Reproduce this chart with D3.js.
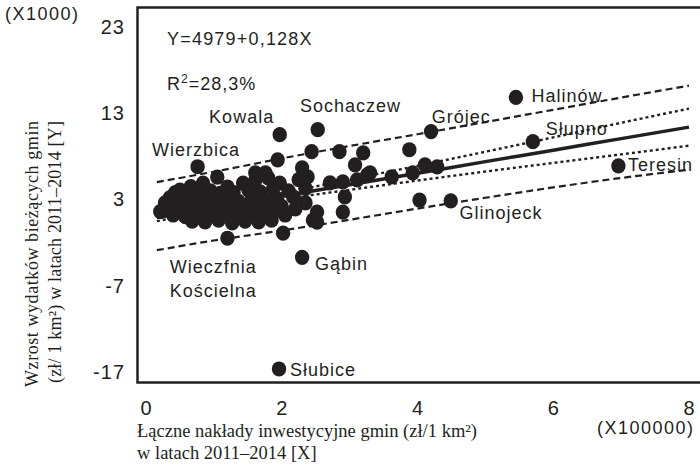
<!doctype html>
<html>
<head>
  <meta charset="utf-8">
  <title>Wydatki bieżące a nakłady inwestycyjne gmin</title>
  <style>
    body { margin: 0; background: #fff; }
    svg text { font-family: "Liberation Sans", Arial, sans-serif; fill: #231f20; }
    svg .serif { font-family: "Liberation Serif", "Times New Roman", serif; }
  </style>
</head>
<body>
  <svg id="chart" width="700" height="466"></svg>
  <script src="https://cdn.jsdelivr.net/npm/d3@7"></script>
  <script>

  // gminy: x = nakłady (x100000 zł/km2), y = wzrost wydatków (x1000 zł/km2)
  const ptX = [
    5.45, 4.20, 5.70, 6.96, 4.49, 4.03, 2.53, 1.97, 0.76, 1.20, 2.30, 1.96,
    1.94, 2.44, 2.85, 3.20, 3.88, 3.08, 2.30, 2.38, 2.90, 2.71, 3.26, 3.11,
    3.62, 3.93, 4.11, 4.29, 2.93, 2.90, 2.52, 2.02, 3.30, 2.46, 2.52,
    // skupisko
    0.50, 0.66, 0.84, 1.20, 1.43, 1.61, 1.80, 1.97, 2.25, 1.05, 1.61, 1.76,
    0.35, 0.43, 0.60, 0.79, 0.95, 1.09, 1.29, 1.51, 1.68, 1.87, 2.10, 2.35,
    0.28, 0.48, 0.66, 0.82, 1.00, 1.17, 1.36, 1.56, 1.74, 1.93, 2.17, 2.35,
    0.21, 0.38, 0.56, 0.73, 0.92, 1.07, 1.27, 1.44, 1.62, 1.80, 2.00, 2.20,
    0.40, 0.58, 0.79, 0.95, 1.12, 1.31, 1.51, 1.68, 1.87, 2.05,
    0.68, 0.87, 1.07, 1.27, 1.46, 1.66, 1.85
  ];
  const ptY = [
    14.84, 10.87, 9.71, 6.91, 2.83, 2.94, 11.10, 10.52, 6.80, -1.49, -3.70, -16.65,
    7.60, 8.54, 8.54, 8.40, 8.77, 7.02, 6.67, 5.62, 5.04, 4.92, 5.86, 5.27,
    5.62, 6.09, 7.02, 6.79, 3.29, 1.54, 0.38, -0.90, 6.09, 0.60, 1.54,
    4.10, 4.50, 4.90, 4.45, 4.90, 5.20, 5.50, 4.90, 5.30, 5.60, 6.10, 6.10,
    3.20, 3.80, 3.60, 3.90, 4.00, 3.70, 3.80, 4.10, 3.90, 4.20, 4.00, 4.30,
    2.60, 2.90, 2.70, 3.10, 2.90, 3.10, 2.80, 3.20, 2.90, 3.10, 3.30, 2.60,
    1.60, 2.00, 2.20, 1.90, 2.30, 2.00, 2.20, 1.90, 2.30, 2.00, 2.20, 1.90,
    1.20, 1.00, 1.40, 1.10, 1.40, 1.00, 1.30, 1.10, 1.40, 1.20,
    0.50, 0.40, 0.60, 0.30, 0.50, 0.40, 0.60
  ];

  // linia regresji i granice
  const fitX      = [0.16, 1, 2, 3, 4, 5, 6, 7, 8];
  const fitY      = [0.92, 2.05, 3.38, 4.72, 6.05, 7.39, 8.72, 10.06, 11.39];
  const confUpper = [1.36, 2.36, 3.74, 5.32, 6.90, 8.54, 10.20, 11.89, 13.54];
  const confLower = [0.49, 1.74, 3.02, 4.12, 5.20, 6.24, 7.24, 8.23, 9.24];
  const predUpper = [5.02, 6.22, 7.76, 9.20, 10.57, 11.98, 13.40, 14.82, 16.20];
  const predLower = [-2.88, -1.75, -0.60, 0.65, 1.95, 3.20, 4.40, 5.50, 6.45];

  const xTicks = [0, 2, 4, 6, 8];
  const yTicks = [23, 13, 3, -7, -17];

  // nazwy gmin: tekst, początek napisu, linia bazowa
  const labelText = ["Halinów", "Grójec", "Słupno", "Teresin", "Glinojeck", "Sochaczew",
                     "Kowala", "Wierzbica", "Wieczfnia", "Kościelna", "Gąbin", "Słubice"];
  const labelX = [5.68, 4.21, 5.89, 7.10, 4.62, 2.27, 0.93, 0.09, 0.35, 0.35, 2.49, 2.12];
  const labelY = [14.35, 11.92, 10.48, 6.33, 0.73, 13.2, 11.92, 8.07, -5.55, -8.35, -5.22, -17.5];

  const ink = "#231f20";
  let svg = d3.select("#chart");

  let x = d3.scaleLinear().domain([0, 8]).range([146, 689]);
  let y = d3.scaleLinear().domain([-17, 23]).range([372, 27]);

  // ramka wykresu (prawa krawędź poza kadrem)
  svg.append("path")
    .attr("d", "M720,7.5 H137.5 V382.5 H720")
    .attr("fill", "none")
    .attr("stroke", ink)
    .attr("stroke-width", 2.5);

  // osie
  let yAxis = svg.append("g")
    .attr("transform", "translate(125,0)")
    .call(d3.axisLeft(y).tickValues(yTicks).tickFormat(d => String(d)).tickSize(0).tickPadding(0));
  let xAxis = svg.append("g")
    .attr("transform", "translate(0,401)")
    .call(d3.axisBottom(x).tickValues(xTicks).tickFormat(d => String(d)).tickSize(0).tickPadding(0));
  [yAxis, xAxis].forEach(a => {
    a.select(".domain").remove();
    a.selectAll("text")
      .attr("font-family", null)
      .style("font-size", "20px")
      .style("letter-spacing", "1px")
      .attr("fill", ink);
  });

  svg.append("text").attr("x", 5).attr("y", 20)
    .style("font-size", "18px").style("letter-spacing", "1.5px")
    .text("(X1000)");
  svg.append("text").attr("x", 597).attr("y", 434)
    .style("font-size", "18px").style("letter-spacing", "1.5px")
    .text("(X100000)");

  // opisy osi
  svg.append("text").attr("class", "serif")
    .attr("x", 137).attr("y", 437)
    .style("font-size", "18.5px")
    .text("Łączne nakłady inwestycyjne gmin (zł/1 km²)");
  svg.append("text").attr("class", "serif")
    .attr("x", 137).attr("y", 459)
    .style("font-size", "18.5px")
    .text("w latach 2011–2014 [X]");

  let yTitle = svg.append("g").attr("transform", "translate(0,254) rotate(-90)");
  yTitle.append("text").attr("class", "serif")
    .attr("x", 0).attr("y", 38)
    .attr("text-anchor", "middle")
    .attr("textLength", 266).attr("lengthAdjust", "spacing")
    .style("font-size", "18px")
    .text("Wzrost wydatków bieżących gmin");
  yTitle.append("text").attr("class", "serif")
    .attr("x", 2).attr("y", 61)
    .attr("text-anchor", "middle")
    .attr("textLength", 262).attr("lengthAdjust", "spacing")
    .style("font-size", "18px")
    .text("(zł/ 1 km²) w latach 2011–2014 [Y]");

  // linie
  let line = d3.line()
    .x(d => x(d[0]))
    .y(d => y(d[1]))
    .curve(d3.curveMonotoneX);

  let lines = [
    {vals: predUpper, width: 2.2, dash: "7,4"},
    {vals: predLower, width: 2.2, dash: "7,4"},
    {vals: confUpper, width: 2.4, dash: "3,3"},
    {vals: confLower, width: 2.4, dash: "3,3"},
    {vals: fitY, width: 3.5, dash: null}
  ];

  svg.append("g")
    .selectAll("path")
    .data(lines)
    .enter()
    .append("path")
    .attr("d", d => line(fitX.map((v, i) => [v, d.vals[i]])))
    .attr("fill", "none")
    .attr("stroke", ink)
    .attr("stroke-width", d => d.width)
    .attr("stroke-dasharray", d => d.dash);

  // punkty
  svg.append("g")
    .selectAll("ellipse")
    .data(d3.range(ptX.length))
    .enter()
    .append("ellipse")
    .attr("cx", i => x(ptX[i]))
    .attr("cy", i => y(ptY[i]))
    .attr("rx", 7.2)
    .attr("ry", 7.6)
    .attr("fill", ink);

  // równanie
  svg.append("text").attr("x", 167).attr("y", 45)
    .style("font-size", "18px").style("letter-spacing", "1.2px")
    .text("Y=4979+0,128X");
  let r2 = svg.append("text").attr("x", 167).attr("y", 90)
    .style("font-size", "18px").style("letter-spacing", "1px");
  r2.append("tspan").text("R");
  r2.append("tspan").attr("dy", -7).style("font-size", "12px").text("2");
  r2.append("tspan").attr("dy", 7).text("=28,3%");

  // nazwy gmin
  svg.append("g")
    .selectAll("text")
    .data(labelText)
    .enter()
    .append("text")
    .attr("x", (d, i) => x(labelX[i]))
    .attr("y", (d, i) => y(labelY[i]))
    .style("font-size", "18px")
    .style("letter-spacing", "1px")
    .text(d => d);

  </script>
</body>
</html>
